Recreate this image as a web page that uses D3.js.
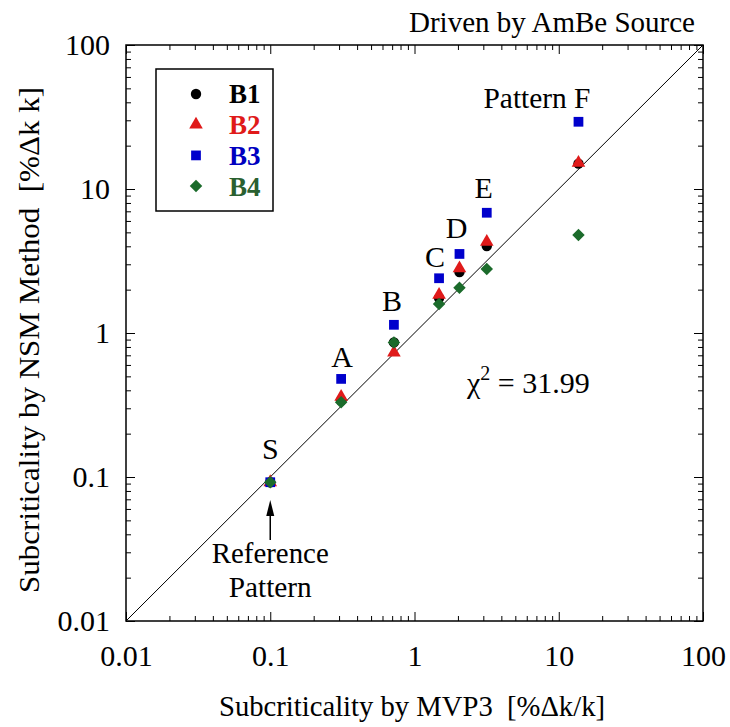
<!DOCTYPE html>
<html><head><meta charset="utf-8">
<script src="https://cdn.jsdelivr.net/npm/d3@7"></script>
</head><body style="margin:0;background:#fff"><svg id="c" width="730" height="727" font-family="Liberation Serif"></svg>
<script>
const patterns = ["S","A","B","C","D","E","F"];
const mvp3 = [0.1, 0.31, 0.72, 1.48, 2.05, 3.17, 13.7];
const b1 = [0.092, 0.34, 0.86, 1.75, 2.65, 4.02, 15.0];
const b2 = [0.092, 0.36, 0.73, 1.84, 2.81, 4.30, 15.2];
const b3 = [0.092, 0.48, 1.14, 2.40, 3.54, 6.84, 29.3];
const b4 = [0.092, 0.33, 0.86, 1.59, 2.06, 2.78, 4.8];
const seriesNames = ["B1","B2","B3","B4"];
const majorTicks = [0.01, 0.1, 1, 10, 100];
const tickLabels = ["0.01","0.1","1","10","100"];

const FONT = "Liberation Serif";
const FS = 30;
const colors = {B1:"#000000", B2:"#e01a1a", B3:"#0000cc", B4:"#1b6b2b"};
const textColors = {B1:"#000000", B2:"#e01a1a", B3:"#0000c0", B4:"#2a6030"};
const shapes = {B1:"circle", B2:"triangle", B3:"square", B4:"diamond"};
const seriesVals = {B1:b1, B2:b2, B3:b3, B4:b4};

const svg = d3.select("#c");
const L=126, R=703, T=45, B=621;
const x = d3.scaleLog().domain([0.01,100]).range([L,R]);
const y = d3.scaleLog().domain([0.01,100]).range([B,T]);

const minor = [];
for (let e=-2;e<2;e++) for (let m=2;m<=9;m++) minor.push(m*Math.pow(10,e));

function styleAxis(g){ g.attr("font-family",FONT); g.select(".domain").remove(); g.selectAll("line").attr("stroke","#000").attr("stroke-width",1); }
const fmt = d => tickLabels[majorTicks.indexOf(d)];

svg.append("g").attr("transform",`translate(0,${B})`)
  .call(d3.axisBottom(x).tickValues(majorTicks).tickFormat(fmt).tickSize(-9).tickPadding(24))
  .call(styleAxis).selectAll("text").attr("font-size",FS).attr("fill","#000").attr("font-family",FONT);
svg.append("g").attr("transform",`translate(${L},0)`)
  .call(d3.axisLeft(y).tickValues(majorTicks).tickFormat(fmt).tickSize(-9).tickPadding(16))
  .call(styleAxis).selectAll("text").attr("font-size",FS).attr("fill","#000").attr("font-family",FONT);
svg.append("g").attr("transform",`translate(0,${T})`)
  .call(d3.axisTop(x).tickValues(majorTicks).tickFormat("").tickSize(-9)).call(styleAxis);
svg.append("g").attr("transform",`translate(${R},0)`)
  .call(d3.axisRight(y).tickValues(majorTicks).tickFormat("").tickSize(-9)).call(styleAxis);
svg.append("g").attr("transform",`translate(0,${B})`).call(d3.axisBottom(x).tickValues(minor).tickFormat("").tickSize(-5)).call(styleAxis);
svg.append("g").attr("transform",`translate(0,${T})`).call(d3.axisTop(x).tickValues(minor).tickFormat("").tickSize(-5)).call(styleAxis);
svg.append("g").attr("transform",`translate(${L},0)`).call(d3.axisLeft(y).tickValues(minor).tickFormat("").tickSize(-5)).call(styleAxis);
svg.append("g").attr("transform",`translate(${R},0)`).call(d3.axisRight(y).tickValues(minor).tickFormat("").tickSize(-5)).call(styleAxis);

svg.append("rect").attr("x",L).attr("y",T).attr("width",R-L).attr("height",B-T)
  .attr("fill","none").attr("stroke","#000").attr("stroke-width",1.5);

svg.append("line").attr("x1",x(0.01)).attr("y1",y(0.01)).attr("x2",x(100)).attr("y2",y(100))
  .attr("stroke","#000").attr("stroke-width",1);

function symPath(shape){
  if (shape==="circle") return d3.symbol(d3.symbolCircle, 85)();
  if (shape==="triangle") return d3.symbol(d3.symbolTriangle, 80)();
  if (shape==="square") return d3.symbol(d3.symbolSquare, 95)();
  return d3.symbol(d3.symbolSquare, 78)();
}
function rot(shape){ return shape==="diamond" ? " rotate(45)" : ""; }

seriesNames.forEach(s=>{
  svg.append("g").selectAll("path").data(mvp3.map((v,i)=>({x:v,y:seriesVals[s][i]})))
    .join("path").attr("d",symPath(shapes[s]))
    .attr("transform",d=>`translate(${x(d.x)},${y(d.y)})${rot(shapes[s])}`)
    .attr("fill",colors[s]);
});

function label(px, py, str, o={}){
  const g = svg.append("g").attr("transform",`translate(${px},${py})${o.rotate?` rotate(${o.rotate})`:""}`);
  const t = g.append("text").attr("font-family",FONT).attr("font-size",o.size||FS).attr("fill",o.fill||"#000")
    .attr("text-anchor",o.anchor||"start");
  if (o.dy) t.attr("dy",o.dy);
  if (o.bold) t.attr("font-weight","bold");
  if (o.width) t.attr("textLength",o.width).attr("lengthAdjust","spacingAndGlyphs");
  if (str!==null) t.text(str);
  return t;
}

const lblOffset = {S:-34, A:-22, B:-24, C:-22, D:-26, E:-25};
const lblDx = {S:0, A:1, B:-2, C:-4, D:-3, E:-3};
patterns.forEach((p,i)=>{
  if (p==="F") {
    label(x(mvp3[i])+12, y(b3[i])-24, "Pattern F", {anchor:"end", dy:"0.35em", width:107});
  } else {
    label(x(mvp3[i])+lblDx[p], y(b3[i])+lblOffset[p], p, {anchor:"middle", dy:"0.35em"});
  }
});

const sx = x(mvp3[0]);
svg.append("line").attr("x1",sx).attr("x2",sx).attr("y1",540).attr("y2",510).attr("stroke","#000").attr("stroke-width",1.5);
svg.append("path").attr("d",`M${sx},500 L${sx-4},516 L${sx+4},516 Z`).attr("fill","#000");
label(sx, 563, "Reference", {anchor:"middle", width:117});
label(sx, 597, "Pattern", {anchor:"middle", width:83});

const chi = label(467, 393, null, {});
chi.append("tspan").text("χ");
chi.append("tspan").attr("font-size",20).attr("dy",-13).text("2");
chi.append("tspan").attr("dy",13).text("\u00A0=\u00A031.99");

label(695, 32, "Driven by AmBe Source", {anchor:"end", width:286});
label(412, 716, "Subcriticality by MVP3\u00A0\u00A0[%Δk/k]", {anchor:"middle", width:386});
label(39, 340, "Subcriticality by NSM Method\u00A0\u00A0[%Δk k]", {anchor:"middle", width:506, rotate:-90});

svg.append("rect").attr("x",156).attr("y",69).attr("width",117).attr("height",142)
  .attr("fill","#fff").attr("stroke","#000").attr("stroke-width",1.5);
seriesNames.forEach((s,i)=>{
  const ly = 94 + i*30.7;
  svg.append("path").attr("d",symPath(shapes[s])).attr("transform",`translate(196,${ly})${rot(shapes[s])}`).attr("fill",colors[s]);
  label(229, ly, s, {size:27, bold:true, dy:"0.35em", fill:textColors[s]});
});
</script></body></html>
